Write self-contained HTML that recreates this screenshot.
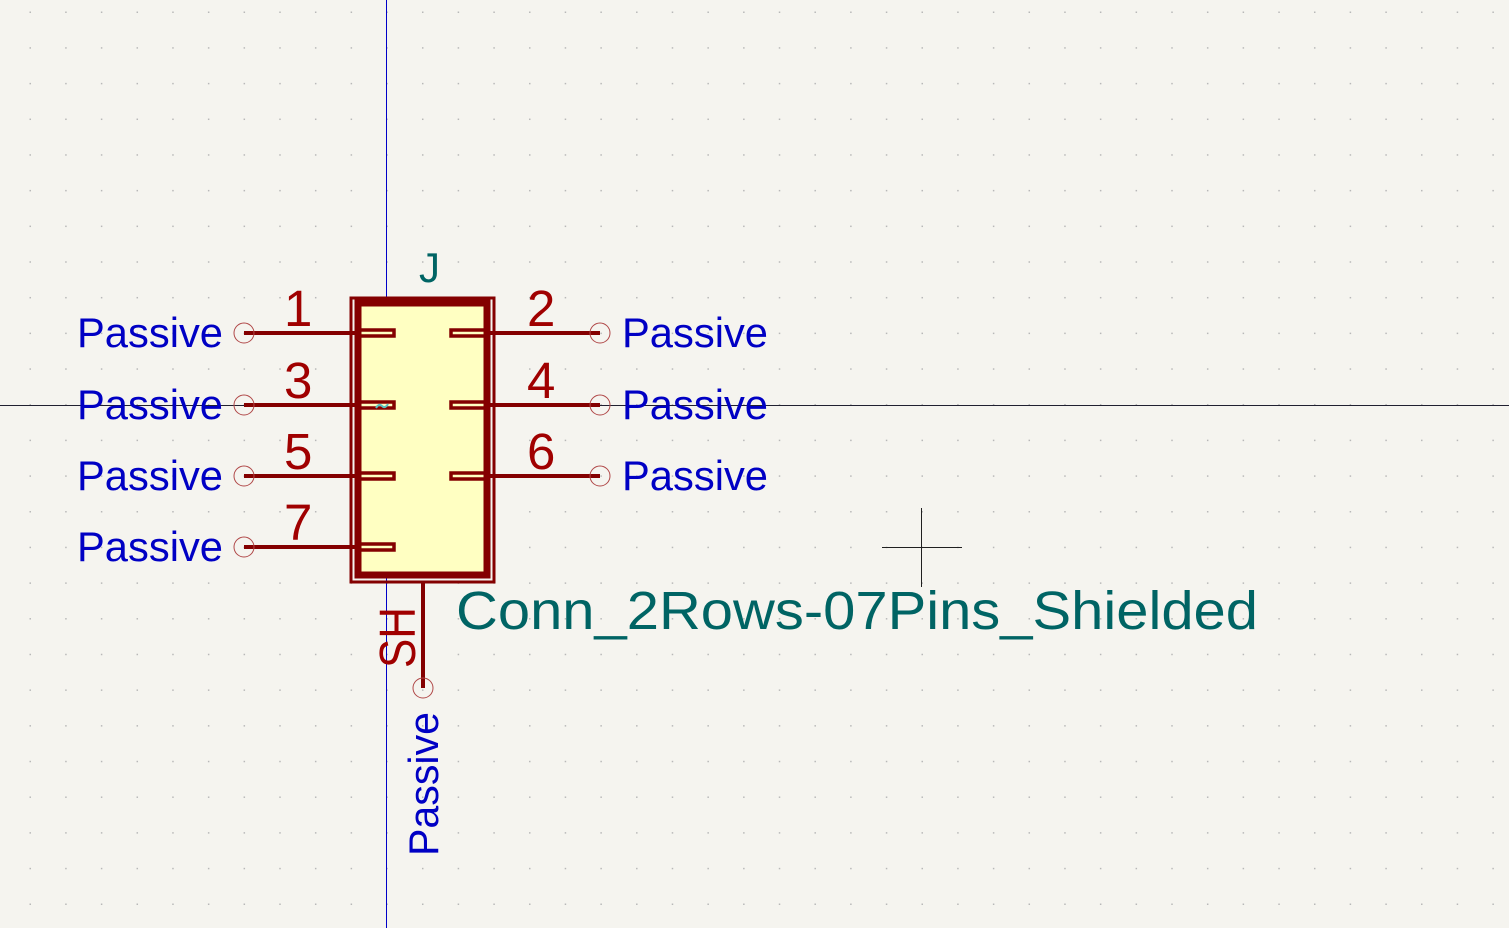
<!DOCTYPE html>
<html><head><meta charset="utf-8"><style>
html,body{margin:0;padding:0;background:#f5f4ef;}
svg{display:block;}
text{font-family:"Liberation Sans",sans-serif;}
</style></head><body>
<svg width="1509" height="928" viewBox="0 0 1509 928" xmlns="http://www.w3.org/2000/svg">
<defs>
<pattern id="g" x="29.5" y="11.5" width="35.68" height="35.68" patternUnits="userSpaceOnUse">
<rect x="0" y="0" width="1.5" height="1.5" fill="#b8b8b8"/>
</pattern>
</defs>
<rect width="1509" height="928" fill="#f5f4ef"/>
<rect width="1509" height="928" fill="url(#g)"/>
<line x1="386.5" y1="0" x2="386.5" y2="928" stroke="#0000c8" stroke-width="1"/>
<line x1="0" y1="405.5" x2="1509" y2="405.5" stroke="#202030" stroke-width="1"/>
<line x1="882" y1="547.5" x2="962" y2="547.5" stroke="#202020" stroke-width="1"/>
<line x1="921.5" y1="508" x2="921.5" y2="587" stroke="#202020" stroke-width="1"/>
<rect x="351" y="298" width="143" height="284" fill="none" stroke="#840000" stroke-width="3"/>
<rect x="358" y="303" width="129" height="272" fill="#ffffc2" stroke="#840000" stroke-width="7"/>
<g stroke="#840000" stroke-width="4" fill="none">
<line x1="244" y1="333" x2="358" y2="333"/><line x1="244" y1="405" x2="358" y2="405"/>
<line x1="244" y1="476" x2="358" y2="476"/><line x1="244" y1="547" x2="358" y2="547"/>
<line x1="487" y1="333" x2="600" y2="333"/><line x1="487" y1="405" x2="600" y2="405"/>
<line x1="487" y1="476" x2="600" y2="476"/>
<line x1="423" y1="582" x2="423" y2="688"/>
</g>
<g stroke="#840000" stroke-width="3.5" fill="none">
<rect x="358" y="330" width="36" height="6"/><rect x="358" y="402" width="36" height="6"/>
<rect x="358" y="473" width="36" height="6"/><rect x="358" y="544" width="36" height="6"/>
<rect x="451" y="330" width="36" height="6"/><rect x="451" y="402" width="36" height="6"/>
<rect x="451" y="473" width="36" height="6"/>
</g>
<path d="M376 408 q3 -5 6 -2 t6 -2" stroke="#5cc0c0" stroke-width="2" fill="none"/>
<g stroke="#b04848" stroke-width="1" fill="none">
<circle cx="244" cy="333" r="10"/><circle cx="244" cy="405" r="10"/>
<circle cx="244" cy="476" r="10"/><circle cx="244" cy="547" r="10"/>
<circle cx="600" cy="333" r="10"/><circle cx="600" cy="405" r="10"/>
<circle cx="600" cy="476" r="10"/><circle cx="423" cy="688" r="10"/>
</g>
<g fill="#a00000" font-size="51">
<text x="284" y="326" textLength="32">1</text>
<text x="284" y="398" textLength="32">3</text>
<text x="284" y="469" textLength="32">5</text>
<text x="284" y="540" textLength="32">7</text>
<text x="527" y="326" textLength="32">2</text>
<text x="527" y="398" textLength="32">4</text>
<text x="527" y="469" textLength="32">6</text>
<text transform="translate(415,668) rotate(-90)" textLength="61" lengthAdjust="spacingAndGlyphs">SH</text>
</g>
<g fill="#0000c4" font-size="42">
<text x="77" y="347" textLength="146" lengthAdjust="spacingAndGlyphs">Passive</text>
<text x="77" y="419" textLength="146" lengthAdjust="spacingAndGlyphs">Passive</text>
<text x="77" y="490" textLength="146" lengthAdjust="spacingAndGlyphs">Passive</text>
<text x="77" y="561" textLength="146" lengthAdjust="spacingAndGlyphs">Passive</text>
<text x="622" y="347" textLength="146" lengthAdjust="spacingAndGlyphs">Passive</text>
<text x="622" y="419" textLength="146" lengthAdjust="spacingAndGlyphs">Passive</text>
<text x="622" y="490" textLength="146" lengthAdjust="spacingAndGlyphs">Passive</text>
<text transform="translate(438,856) rotate(-90)" textLength="144" lengthAdjust="spacingAndGlyphs">Passive</text>
</g>
<g fill="#006464">
<text x="419" y="282" font-size="42">J</text>
<text x="456" y="629" font-size="54" textLength="802" lengthAdjust="spacingAndGlyphs">Conn_2Rows-07Pins_Shielded</text>
</g>
</svg>
</body></html>
